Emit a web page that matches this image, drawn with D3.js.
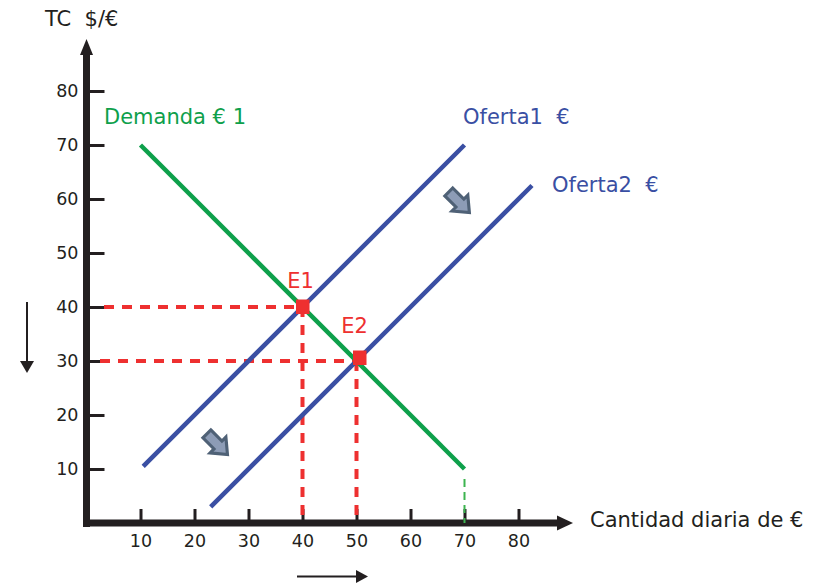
<!DOCTYPE html>
<html>
<head>
<meta charset="utf-8">
<script src="https://cdn.jsdelivr.net/npm/d3@7"></script>
<style>
  body { margin: 0; background: #fff; }
  svg text { font-family: "DejaVu Sans", Verdana, sans-serif; white-space: pre; }
</style>
</head>
<body>
<div id="chart"></div>
<script>
// chart data
var xTicks = [10, 20, 30, 40, 50, 60, 70, 80];
var yTicks = [10, 20, 30, 40, 50, 60, 70, 80];
var demanda = [[10, 70], [70, 10]];
var oferta1 = [[10.5, 10.5], [70, 70]];
var oferta2 = [[23, 3], [82.5, 62.5]];
var equilibrios = [{name: "E1", q: 40, p: 40}, {name: "E2", q: 50, p: 30}];
var shifts = [[69, 59.4], [24.2, 14.6]];

var W = 823, H = 583;
var svg = d3.select("#chart").append("svg")
    .attr("width", W).attr("height", H);

var x = d3.scaleLinear().domain([0, 90]).range([86.5, 572.5]);
var y = d3.scaleLinear().domain([0, 90]).range([523, 37]);

var ink = "#231f20", red = "#ee3030", blue = "#3a4fa3", green = "#0ea04b";

// axes
var xAxis = svg.append("g").attr("transform", "translate(0," + y(0) + ")")
    .call(d3.axisBottom(x).tickValues(xTicks).tickSize(-14).tickPadding(12));
var yAxis = svg.append("g").attr("transform", "translate(" + x(0) + ",0)")
    .call(d3.axisLeft(y).tickValues(yTicks).tickSize(-18).tickPadding(8));
[xAxis, yAxis].forEach(function(a) {
    a.select(".domain").remove();
    a.selectAll(".tick line").attr("stroke", ink).attr("stroke-width", 3);
    a.selectAll(".tick text").attr("fill", ink).style("font-size", "17.5px")
        .style("font-family", "'DejaVu Sans', Verdana, sans-serif");
});

svg.append("line").attr("x1", 85).attr("x2", 560).attr("y1", y(0)).attr("y2", y(0))
    .attr("stroke", ink).attr("stroke-width", 7);
svg.append("line").attr("x1", x(0)).attr("x2", x(0)).attr("y1", 527).attr("y2", 52)
    .attr("stroke", ink).attr("stroke-width", 7);
svg.append("path").attr("fill", ink)
    .attr("d", "M557," + (y(0) - 7.5) + "L573," + y(0) + "L557," + (y(0) + 7.5) + "Z");
svg.append("path").attr("fill", ink)
    .attr("d", "M" + (x(0) - 6.5) + ",55L" + x(0) + ",39L" + (x(0) + 6.5) + ",55Z");

svg.append("text").attr("x", 45).attr("y", 26).attr("fill", ink)
    .style("font-size", "21px").text("TC  $/€");
svg.append("text").attr("x", 590).attr("y", 527).attr("fill", ink)
    .style("font-size", "21px").text("Cantidad diaria de €");

// dashed guides
var dash = "10,8";
equilibrios.forEach(function(e, i) {
    svg.append("line").attr("x1", i == 0 ? 104 : 100).attr("x2", x(e.q))
        .attr("y1", y(e.p)).attr("y2", y(e.p))
        .attr("stroke", red).attr("stroke-width", 4).attr("stroke-dasharray", dash);
    svg.append("line").attr("x1", x(e.q)).attr("x2", x(e.q))
        .attr("y1", y(e.p)).attr("y2", y(0))
        .attr("stroke", red).attr("stroke-width", 4).attr("stroke-dasharray", dash);
});
svg.append("line").attr("x1", x(70)).attr("x2", x(70))
    .attr("y1", y(10) + 10).attr("y2", y(0))
    .attr("stroke", "#3cb44f").attr("stroke-width", 2).attr("stroke-dasharray", "8,5");

// curves
var line = d3.line().x(function(d) { return x(d[0]); }).y(function(d) { return y(d[1]); });
[[demanda, green], [oferta1, blue], [oferta2, blue]].forEach(function(c) {
    svg.append("path").datum(c[0]).attr("d", line)
        .attr("fill", "none").attr("stroke", c[1]).attr("stroke-width", 4.5);
});

// equilibrium points
svg.selectAll(".eq").data(equilibrios).enter().append("rect")
    .attr("x", function(d, i) { return x(d.q) - 6.5 + i * 3; })
    .attr("y", function(d, i) { return y(d.p) - 7.5 - i * 3; })
    .attr("width", 13.5).attr("height", 14.5).attr("fill", red);
svg.selectAll(".eqlab").data(equilibrios).enter().append("text")
    .attr("x", function(d) { return x(d.q) - 2; })
    .attr("y", function(d, i) { return y(d.p) - 19 - i * 9; })
    .attr("text-anchor", "middle").attr("fill", red)
    .style("font-size", "21px").text(function(d) { return d.name; });

// labels
svg.append("text").attr("x", 104).attr("y", 124).attr("fill", green)
    .style("font-size", "21px").text("Demanda € 1");
svg.append("text").attr("x", 463).attr("y", 124).attr("fill", blue)
    .style("font-size", "21px").text("Oferta1  €");
svg.append("text").attr("x", 552).attr("y", 192).attr("fill", blue)
    .style("font-size", "21px").text("Oferta2  €");

// block arrows showing the shift
svg.selectAll(".shift").data(shifts).enter().append("path")
    .attr("transform", function(d) { return "translate(" + x(d[0]) + "," + y(d[1]) + ") rotate(45) scale(1.12)"; })
    .attr("d", "M-13,-5L1,-5L1,-10L13,0L1,10L1,5L-13,5Z")
    .attr("fill", "#8d9cb6").attr("stroke", "#4f6176").attr("stroke-width", 2.8)
    .attr("stroke-linejoin", "miter");

// side arrows
svg.append("line").attr("x1", 27).attr("x2", 27).attr("y1", 302).attr("y2", 362)
    .attr("stroke", ink).attr("stroke-width", 2);
svg.append("path").attr("fill", ink).attr("d", "M20,361L34,361L27,373Z");
svg.append("line").attr("x1", 297).attr("x2", 358).attr("y1", 576.5).attr("y2", 576.5)
    .attr("stroke", ink).attr("stroke-width", 2);
svg.append("path").attr("fill", ink).attr("d", "M356,570L368,576.5L356,583Z");
</script>
</body>
</html>
